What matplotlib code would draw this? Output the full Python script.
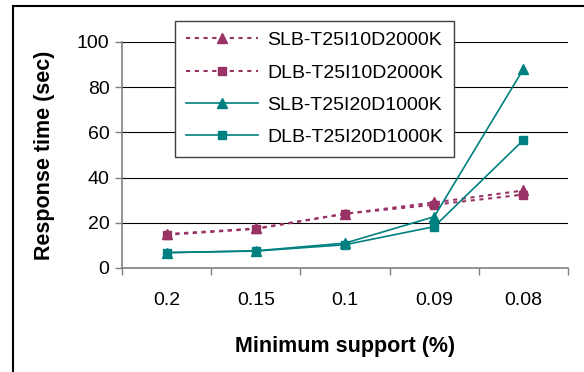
import matplotlib.pyplot as plt
from matplotlib.patches import Rectangle

plt.rcParams['font.family'] = ['Liberation Sans', 'DejaVu Sans']

supports = ['0.2', '0.15', '0.1', '0.09', '0.08']
slb_10 = [15, 17.5, 24, 29, 34.3]
dlb_10 = [14.7, 17.3, 24, 28, 32.5]
slb_20 = [6.8, 7.6, 11, 22.7, 88]
dlb_20 = [6.8, 7.5, 10.3, 18.3, 56.6]
names = ['SLB-T25I10D2000K', 'DLB-T25I10D2000K', 'SLB-T25I20D1000K', 'DLB-T25I20D1000K']

maroon = '#993366'
teal = '#008080'

fig = plt.figure(figsize=(5.84, 3.72), dpi=100)
ax = fig.add_axes([122 / 584, 1 - 268 / 372, 446 / 584, 226 / 372])

x = range(len(supports))
ax.plot(x, slb_10, color=maroon, ls=(0, (2, 2.2)), lw=1.5, marker='^', ms=7.5, label=names[0])
ax.plot(x, dlb_10, color=maroon, ls=(0, (2, 2.2)), lw=1.5, marker='s', ms=6, label=names[1])
ax.plot(x, slb_20, color=teal, lw=1.2, marker='^', ms=7.5, label=names[2])
ax.plot(x, dlb_20, color=teal, lw=1.2, marker='s', ms=6, label=names[3])

ax.set_xlim(-0.5, 4.5)
ax.set_ylim(0, 100)
ax.set_yticks(range(0, 101, 20))
ax.set_xticks(x)
ax.set_xticklabels(supports)
ax.set_xticks([i - 0.5 for i in range(6)], minor=True)
ax.tick_params(axis='x', which='major', length=0, pad=17, labelsize=14)
ax.tick_params(axis='x', which='minor', length=5, width=1, color='#808080', direction='out')
ax.tick_params(axis='y', length=5, width=1, color='#808080', labelsize=14, pad=4)
ax.grid(axis='y', color='black', lw=0.8)
ax.set_axisbelow(True)
for s in ['top', 'right']:
    ax.spines[s].set_visible(False)
for s in ['left', 'bottom']:
    ax.spines[s].set_color('#808080')
    ax.spines[s].set_linewidth(1.2)

ax.set_xlabel('Minimum support (%)', fontsize=15.5, fontweight='bold', labelpad=20)
ax.set_ylabel('Response time (sec)', fontsize=15.5, fontweight='bold', labelpad=16)

leg = ax.legend(loc='upper left', bbox_to_anchor=(53 / 446, 1 + 21 / 226), fontsize=14,
                frameon=True, fancybox=False, framealpha=1, edgecolor='#404040',
                handlelength=3.7, handletextpad=0.5, labelspacing=0.75, borderpad=0.55,
                borderaxespad=0)
leg.get_frame().set_linewidth(1)

fig.patches.append(Rectangle((13 / 584, -0.1), 1.2, 1 - 6 / 372 + 0.1, transform=fig.transFigure,
                             fill=False, edgecolor='black', lw=1.5))

fig.savefig('out.png', dpi=100)
